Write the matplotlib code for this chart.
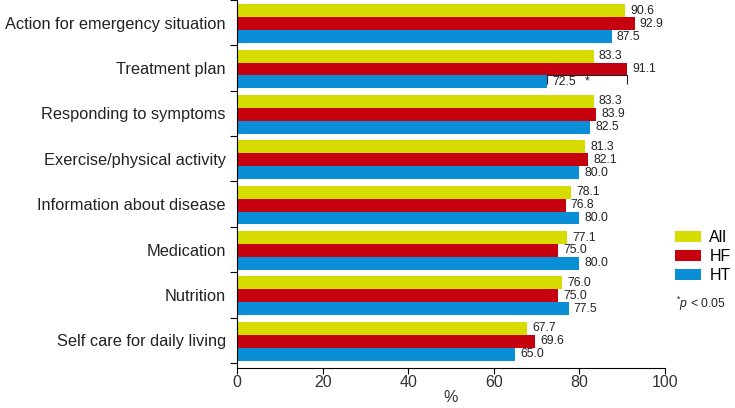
import matplotlib
matplotlib.use("Agg")
import matplotlib.pyplot as plt
import numpy as np
from matplotlib.patches import Patch

plt.rcParams['font.family'] = ['Liberation Sans', 'DejaVu Sans']
plt.rcParams['mathtext.fontset'] = 'custom'
plt.rcParams['mathtext.it'] = 'Liberation Sans:italic'
plt.rcParams['mathtext.rm'] = 'Liberation Sans'

categories = ["Action for emergency situation", "Treatment plan", "Responding to symptoms",
              "Exercise/physical activity", "Information about disease", "Medication",
              "Nutrition", "Self care for daily living"]
all_vals = [90.6, 83.3, 83.3, 81.3, 78.1, 77.1, 76.0, 67.7]
hf_vals = [92.9, 91.1, 83.9, 82.1, 76.8, 75.0, 75.0, 69.6]
ht_vals = [87.5, 72.5, 82.5, 80.0, 80.0, 80.0, 77.5, 65.0]
series_names = ["All", "HF", "HT"]
colors = ['#D6DC00', '#C5000F', '#0A8ED6']
xticks = [0, 20, 40, 60, 80, 100]

fig = plt.figure(figsize=(7.35, 4.08), dpi=100)
ax = fig.add_axes([237/735, 1-368/408, 428/735, 368/408])

n = len(categories)
y = np.arange(n)
offsets = [-0.265, 0.02, 0.305]
h = 0.285
for vals, off, c in zip([all_vals, hf_vals, ht_vals], offsets, colors):
    ax.barh(y + off, vals, height=h, color=c, edgecolor='none')
    for yi, v in zip(y, vals):
        ax.text(v + 1.2, yi + off, f"{v:.1f}", va='center', ha='left', fontsize=8.8, color='#222222')

# significance bracket for Treatment plan (HF vs HT)
i = 1
ytop = i + offsets[1] + h/2 - 0.02
ybot = i + offsets[2] + 0.05
ax.plot([ht_vals[i], ht_vals[i], hf_vals[i], hf_vals[i]], [ybot, ytop, ytop, ybot],
        color='#222222', lw=0.8, solid_capstyle='butt')
ax.text(ht_vals[i] + 8.8, i + offsets[2], "*", va='center', ha='left', fontsize=8.8, color='#222222')

ax.set_xlim(0, 100)
ax.set_ylim(n - 0.5 + 5/45.3, -0.5)
ax.set_xticks(xticks)
ax.set_xticklabels([str(t) for t in xticks], fontsize=11.5, color='#333333')
ax.set_yticks(np.arange(n + 1) - 0.5)
ax.set_yticklabels([])
ax.set_yticks(y, minor=True)
ax.set_yticklabels(categories, minor=True, fontsize=11.8, color='#222222')
ax.tick_params(axis='y', which='major', direction='out', length=5, width=0.8)
ax.tick_params(axis='y', which='minor', length=0, pad=8)
ax.tick_params(axis='x', direction='out', length=4, width=0.8, pad=1)
ax.set_xlabel("%", fontsize=11.5, color='#333333', labelpad=0)
for s in ['top', 'right']:
    ax.spines[s].set_visible(False)
for s in ['left', 'bottom']:
    ax.spines[s].set_linewidth(0.8)

handles = [Patch(facecolor=c, edgecolor='none') for c in colors]
fig.legend(handles, series_names, loc='upper left', bbox_to_anchor=(675/735, 1-230/408),
           frameon=False, fontsize=11.5, handlelength=1.6, handleheight=0.75,
           handletextpad=0.55, labelspacing=0.25, borderaxespad=0, borderpad=0)
fig.text(676/735, 1-304/408, r"$^{*}\mathit{p}$ < 0.05", fontsize=8.8, va='center', ha='left', color='#222222')

fig.savefig("out.png", dpi=100)
